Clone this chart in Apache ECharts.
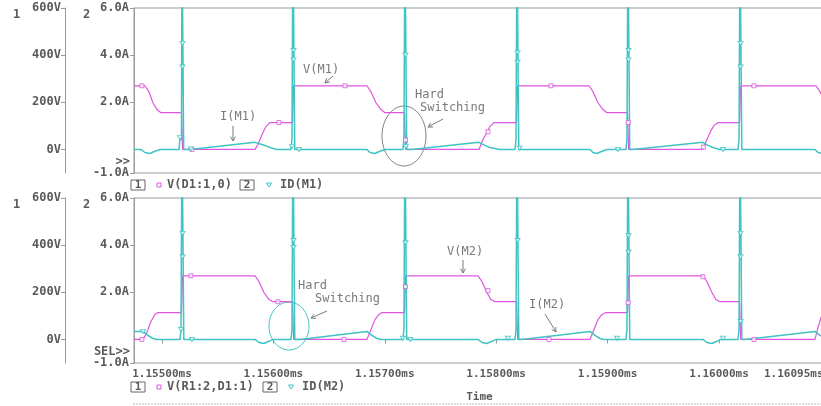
<!DOCTYPE html>
<html><head><meta charset="utf-8">
<script src="https://cdn.jsdelivr.net/npm/echarts@6/dist/echarts.min.js"></script>
<style>html,body{margin:0;padding:0;background:#fff}#c{width:821px;height:406px}</style>
</head><body><div id="c"></div>
<script>
// time in microseconds (labels shown in ms)
const xMin = 1154.749, xMax = 1160.95;
const xTickValues = [1155, 1156, 1157, 1158, 1159, 1160];
const xLabelValues = [1155, 1156, 1157, 1158, 1159, 1160, 1160.95];
const voltTicks = [0, 200, 400, 600];
const ampTicks = [-1, 2, 4, 6];

// V(D1:1,0)  [V]
const vM1 = [
[1154.749,270],[1154.847,270],[1154.883,245],[1154.919,198],[1154.955,169],[1154.991,156],
[1155.175,156],[1155.185,0],[1155.835,0],[1155.862,21],[1155.898,63],[1155.934,97],[1155.969,114],
[1156.172,114],[1156.182,270],[1156.840,270],[1156.876,245],[1156.921,198],[1156.966,169],[1157.002,156],
[1157.177,156],[1157.187,0],[1157.846,0],[1157.882,42],[1157.917,72],[1157.944,97],[1157.980,114],
[1158.183,114],[1158.193,270],[1158.833,270],[1158.869,245],[1158.914,198],[1158.959,169],[1158.995,156],
[1159.179,156],[1159.189,0],[1159.856,0],[1159.892,42],[1159.928,80],[1159.955,101],[1159.991,114],
[1160.185,114],[1160.195,270],[1160.871,270],[1160.907,245],[1160.95,205]
];
// ID(M1) [A]
const iM1 = [
[1154.749,0],[1154.812,0],[1154.847,-0.13],[1154.892,-0.17],[1154.937,-0.08],[1154.982,0],
[1155.153,0],[1155.162,0.5],[1155.175,0.4],[1155.180,9],[1155.190,9],[1155.195,0],[1155.251,0],
[1155.835,0.30],[1155.925,0.17],[1155.969,0.08],[1156.032,0],
[1156.158,0],[1156.167,0.42],[1156.176,9],[1156.186,9],[1156.192,0],
[1156.840,0],[1156.867,-0.13],[1156.912,-0.17],[1156.957,-0.08],[1157.002,0],
[1157.163,0],[1157.172,0.42],[1157.181,9],[1157.191,9],[1157.197,0],[1157.244,0],
[1157.846,0.30],[1157.899,0.17],[1157.944,0.08],[1158.034,0],
[1158.169,0],[1158.178,0.42],[1158.187,9],[1158.197,9],[1158.203,0],
[1158.842,0],[1158.869,-0.13],[1158.905,-0.17],[1158.950,-0.08],[1158.995,0],
[1159.165,0],[1159.174,0.42],[1159.183,9],[1159.193,9],[1159.199,0],[1159.228,0],
[1159.856,0.30],[1159.901,0.17],[1159.946,0.08],[1160.009,0],
[1160.171,0],[1160.180,0.42],[1160.189,9],[1160.199,9],[1160.205,0],
[1160.862,0],[1160.889,-0.13],[1160.925,-0.17],[1160.95,-0.13]
];
// V(R1:2,D1:1) [V]
const vM2 = [
[1154.749,0],[1154.829,0],[1154.865,30],[1154.901,76],[1154.937,106],[1154.964,114],
[1155.175,114],[1155.185,270],[1155.835,270],[1155.871,245],[1155.916,199],[1155.961,169],[1155.996,160],
[1156.172,160],[1156.182,0],[1156.840,0],[1156.876,42],[1156.912,84],[1156.948,106],[1156.975,114],
[1157.177,114],[1157.187,270],[1157.837,270],[1157.873,245],[1157.917,199],[1157.953,169],[1157.989,160],
[1158.183,160],[1158.193,0],[1158.842,0],[1158.878,42],[1158.914,84],[1158.950,106],[1158.986,114],
[1159.179,114],[1159.189,270],[1159.856,270],[1159.892,245],[1159.937,199],[1159.973,169],[1160.009,160],
[1160.185,160],[1160.195,0],[1160.862,0],[1160.884,42],[1160.916,93],[1160.95,130]
];
// ID(M2) [A]
const iM2 = [
[1154.749,0.34],[1154.829,0.34],[1154.874,0.17],[1154.919,0.04],[1154.955,0],
[1155.162,0],[1155.171,0.42],[1155.180,9],[1155.190,9],[1155.196,0],
[1155.835,0],[1155.871,-0.13],[1155.916,-0.17],[1155.961,-0.08],[1155.996,0],
[1156.158,0],[1156.167,0.42],[1156.176,9],[1156.186,9],[1156.192,0],[1156.239,0],
[1156.840,0.34],[1156.885,0.17],[1156.930,0.04],[1156.966,0],
[1157.163,0],[1157.172,0.42],[1157.181,9],[1157.191,9],[1157.197,0],
[1157.837,0],[1157.873,-0.13],[1157.917,-0.17],[1157.962,-0.08],[1157.998,0],
[1158.169,0],[1158.178,0.42],[1158.187,9],[1158.197,9],[1158.203,0],[1158.232,0],
[1158.842,0.34],[1158.887,0.17],[1158.932,0.04],[1158.968,0],
[1159.165,0],[1159.174,0.42],[1159.183,9],[1159.193,9],[1159.199,0],
[1159.856,0],[1159.892,-0.13],[1159.937,-0.17],[1159.982,-0.08],[1160.018,0],
[1160.171,0],[1160.180,0.42],[1160.189,9],[1160.199,9],[1160.205,0],[1160.234,0],
[1160.862,0.34],[1160.907,0.17],[1160.95,0.06]
];
// trace markers
const vM1Markers = [[1154.820,270],[1155.269,0],[1156.050,114],[1156.643,270],[1157.186,40],[1157.926,75],[1158.492,270],[1159.185,114],[1159.860,10],[1160.314,270]];
const iM1Markers = [[1155.185,4.5],[1155.185,3.5],[1155.162,0.5],[1155.260,0.02],[1156.181,4.2],[1156.181,3.8],[1156.167,0.12],[1156.230,0],[1157.186,4.0],[1157.190,0.12],[1158.192,4.1],[1158.192,3.7],[1158.210,0.05],[1159.188,4.2],[1159.188,3.8],[1159.093,0],[1160.194,4.5],[1160.194,3.5],[1160.036,0]];
const vM2Markers = [[1154.820,0],[1155.260,270],[1156.041,160],[1156.634,0],[1157.186,224],[1157.926,207],[1158.474,0],[1159.185,156],[1159.856,266],[1160.314,0]];
const iM2Markers = [[1155.185,4.5],[1155.185,3.5],[1155.171,0.42],[1154.829,0.34],[1155.269,0],[1156.181,4.2],[1156.181,3.9],[1157.186,4.1],[1157.163,0.05],[1157.230,0],[1158.192,4.2],[1158.105,0.05],[1159.188,4.4],[1159.188,3.7],[1159.085,0.05],[1160.036,0.05],[1160.194,4.5],[1160.194,3.5],[1160.194,0.76]];

const MAG = '#df55df', CYN = '#3fc3c3', GRAY = '#9a9a9a', TXT = '#5a5a5a', ANN = '#7a7a7a';
const FONT = 'DejaVu Sans Mono';
const lblStyle = {color: TXT, fontFamily: FONT, fontSize: 12, fontWeight: 'bold'};
const xLblStyle = {color: TXT, fontFamily: FONT, fontSize: 11, fontWeight: 'bold'};

function ampAxis(g) {
  return {type:'value', gridIndex:g, min:-1, max:6, position:'left',
    axisLine:{show:true, lineStyle:{color:GRAY}},
    axisTick:{show:true, customValues:ampTicks, length:4, lineStyle:{color:GRAY}},
    axisLabel:Object.assign({customValues:ampTicks, margin:5, formatter:v=>v.toFixed(1)+'A'}, lblStyle),
    splitLine:{show:false}};
}
function voltAxis(g) {
  return {type:'value', gridIndex:g, min:-100, max:600, position:'left', offset:69,
    axisLine:{show:true, lineStyle:{color:GRAY}},
    axisTick:{show:true, customValues:voltTicks, length:4, lineStyle:{color:GRAY}},
    axisLabel:Object.assign({customValues:voltTicks, margin:4, formatter:v=>v+'V'}, lblStyle),
    splitLine:{show:false}};
}
function lineSeries(data, xi, yi, color, w) {
  return {type:'line', xAxisIndex:xi, yAxisIndex:yi, data:data, showSymbol:false, symbol:'none',
    lineStyle:{color:color, width:w}, itemStyle:{color:color}, clip:true, animation:false, silent:true, z:w>1.3?3:2};
}
function markerSeries(data, xi, yi, color, tri) {
  return {type:'scatter', xAxisIndex:xi, yAxisIndex:yi, data:data, symbol: tri ? 'triangle' : 'rect',
    symbolRotate: tri ? 180 : 0, symbolSize: tri ? [5,4] : 4,
    itemStyle:{color:'#fff', borderColor:color, borderWidth:1}, animation:false, silent:true, z:4};
}

const chart = echarts.init(document.getElementById('c'), null, {renderer:'canvas'});

function arrow(x1,y1,x2,y2,color) {
  const a = Math.atan2(y2-y1, x2-x1), L = 5, s = 0.5;
  return {type:'group', children:[
    {type:'line', shape:{x1,y1,x2,y2}, style:{stroke:color, lineWidth:1}},
    {type:'polyline', shape:{points:[[x2-L*Math.cos(a-s), y2-L*Math.sin(a-s)],[x2,y2],[x2-L*Math.cos(a+s), y2-L*Math.sin(a+s)]]}, style:{stroke:color, lineWidth:1, fill:null}}
  ]};
}
function txt(x,y,t,opt) {
  return {type:'text', x, y, style:Object.assign({text:t, fill:TXT, font:'bold 12px "'+FONT+'"', textVerticalAlign:'middle'}, opt||{})};
}
function boxNum(x,y,n) {
  return {type:'group', children:[
    {type:'rect', shape:{x:x, y:y-5, width:14, height:10}, style:{stroke:'#666', fill:'#fff', lineWidth:1}},
    txt(x+7, y, n, {textAlign:'center', font:'bold 11px "'+FONT+'"'})
  ]};
}
function legendRow(y, vName, iName, x2box, x2tri, x2txt) {
  return [
    boxNum(131, y, '1'),
    {type:'rect', shape:{x:157, y:y-2, width:4, height:4}, style:{stroke:MAG, fill:'#fff', lineWidth:1}},
    txt(167, y, vName),
    boxNum(x2box, y, '2'),
    {type:'polygon', shape:{points:[[x2tri-2.5,y-2],[x2tri+2.5,y-2],[x2tri,y+2]]}, style:{stroke:CYN, fill:'#fff', lineWidth:1}},
    txt(x2txt, y, iName)
  ];
}
const annFont = '12px "'+FONT+'"';

const graphic = [].concat(
  [
    txt(13, 15, '1'), txt(83, 15, '2'), txt(13, 205, '1'), txt(83, 205, '2'),
    txt(130, 162, '>>', {textAlign:'right'}), txt(130, 352, 'SEL>>', {textAlign:'right'})
  ],
  legendRow(185, 'V(D1:1,0)', 'ID(M1)', 240, 269, 280),
  legendRow(387, 'V(R1:2,D1:1)', 'ID(M2)', 263, 291, 302),
  [
    // top annotations
    txt(220, 117, 'I(M1)', {fill:ANN, font:annFont}),
    arrow(233, 126, 233, 141, ANN),
    txt(303, 70, 'V(M1)', {fill:ANN, font:annFont}),
    arrow(333, 76, 325, 83, ANN),
    txt(415, 95, 'Hard', {fill:ANN, font:annFont}),
    txt(420, 108, 'Switching', {fill:ANN, font:annFont}),
    arrow(443, 119, 428, 127, ANN),
    {type:'ellipse', shape:{cx:404, cy:136, rx:22, ry:30}, style:{stroke:'#808080', fill:null, lineWidth:1}},
    // bottom annotations
    txt(298, 286, 'Hard', {fill:ANN, font:annFont}),
    txt(315, 299, 'Switching', {fill:ANN, font:annFont}),
    arrow(327, 311, 311, 318, ANN),
    {type:'ellipse', shape:{cx:289, cy:326, rx:20, ry:24}, style:{stroke:CYN, fill:null, lineWidth:1}},
    txt(447, 252, 'V(M2)', {fill:ANN, font:annFont}),
    arrow(463, 260, 463, 273, ANN),
    txt(529, 305, 'I(M2)', {fill:ANN, font:annFont}),
    arrow(545, 314, 556, 332, ANN),
    {type:'line', shape:{x1:133, y1:404, x2:821, y2:404}, style:{stroke:'#b8b8b8', lineWidth:1, lineDash:[2,1]}}
  ]
);

chart.setOption({
  animation:false,
  backgroundColor:'#fff',
  grid:[
    {left:134, top:8, width:690.8, height:165, show:true, borderColor:GRAY, borderWidth:1, backgroundColor:'transparent', containLabel:false, outerBoundsMode:'none'},
    {left:134, top:198, width:690.8, height:165, show:true, borderColor:GRAY, borderWidth:1, backgroundColor:'transparent', containLabel:false, outerBoundsMode:'none'}
  ],
  xAxis:[
    {type:'value', gridIndex:0, min:xMin, max:xMax, axisLine:{show:false}, axisTick:{show:false}, axisLabel:{show:false}, splitLine:{show:false}},
    {type:'value', gridIndex:1, min:xMin, max:xMax, axisLine:{show:false},
     axisTick:{show:true, customValues:xTickValues, length:4, lineStyle:{color:GRAY}},
     axisLabel:Object.assign({customValues:xLabelValues, margin:6,
       formatter:v => { const s = (v/1000).toFixed(5)+'ms'; return Math.abs(v-xMax)<1e-6 ? '{r|'+s+'}' : s; },
       rich:{r:{padding:[0,62,0,0], color:TXT, fontFamily:FONT, fontSize:11, fontWeight:'bold'}}}, xLblStyle),
     splitLine:{show:false},
     name:'Time', nameLocation:'middle', nameGap:29, nameTextStyle:xLblStyle}
  ],
  yAxis:[ampAxis(0), voltAxis(0), ampAxis(1), voltAxis(1)],
  series:[
    lineSeries(vM1, 0, 1, MAG, 1.2),
    lineSeries(iM1, 0, 0, CYN, 1.5),
    markerSeries(vM1Markers, 0, 1, MAG, false),
    markerSeries(iM1Markers, 0, 0, CYN, true),
    lineSeries(vM2, 1, 3, MAG, 1.2),
    lineSeries(iM2, 1, 2, CYN, 1.5),
    markerSeries(vM2Markers, 1, 3, MAG, false),
    markerSeries(iM2Markers, 1, 2, CYN, true)
  ],
  graphic: graphic
});
</script>
</body></html>
